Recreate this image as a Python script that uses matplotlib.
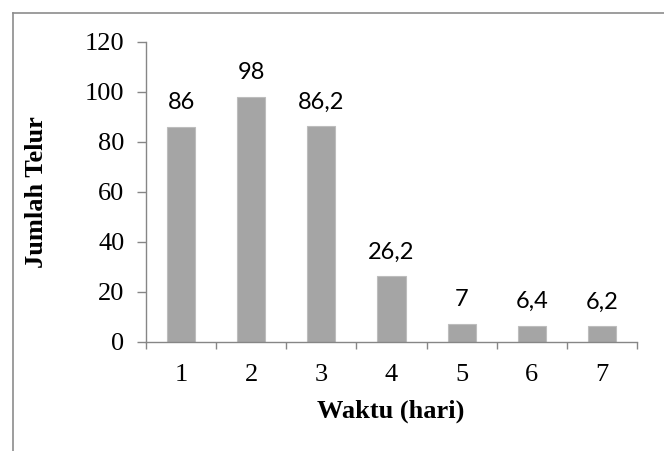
import matplotlib
matplotlib.use("Agg")
import matplotlib.pyplot as plt
from matplotlib.lines import Line2D
from matplotlib.ticker import FixedLocator

# Data
days = [1, 2, 3, 4, 5, 6, 7]
eggs = [86, 98, 86.2, 26.2, 7, 6.4, 6.2]
value_labels = ["86", "98", "86,2", "26,2", "7", "6,4", "6,2"]
y_ticks = [0, 20, 40, 60, 80, 100, 120]

AXIS_GRAY = "#868686"
BAR_GRAY = "#a5a5a5"

# 1: Figure and axes placed like the original
fig = plt.figure(figsize=(6.64, 4.51), dpi=100)
ax = fig.add_axes([0.2199, 0.2417, 0.7394, 0.6652])

# 2: Bars
ax.bar(days, eggs, width=0.4, color=BAR_GRAY, edgecolor="#bdbdbd", linewidth=0.8, zorder=2)

# 3: Value labels above bars
for x, v, lab in zip(days, eggs, value_labels):
    ax.annotate(lab, xy=(x, v), xytext=(0, 13), textcoords="offset points",
                ha="center", va="baseline", fontsize=17, family="Lato", color="black")

# 4: Axes styling
ax.set_xlim(0.5, 7.5)
ax.set_ylim(0, 120)
ax.set_yticks(y_ticks)
ax.set_xticks(days)
ax.xaxis.set_minor_locator(FixedLocator([d + 0.5 for d in [0] + days]))
for s in ["top", "right"]:
    ax.spines[s].set_visible(False)
for s in ["left", "bottom"]:
    ax.spines[s].set_color(AXIS_GRAY)
    ax.spines[s].set_linewidth(1.0)

ax.tick_params(axis="y", which="major", length=6.5, width=1.0, color=AXIS_GRAY,
               pad=9, labelsize=19)
ax.tick_params(axis="x", which="major", length=0, pad=16, labelsize=19)
ax.tick_params(axis="x", which="minor", length=5, width=1.0, color=AXIS_GRAY)
for lbl in ax.get_xticklabels() + ax.get_yticklabels():
    lbl.set_fontfamily("Liberation Serif")

# 5: Axis titles
ax.set_xlabel("Waktu (hari)", fontsize=19, fontweight="bold", family="Liberation Serif")
ax.set_ylabel("Jumlah Telur", fontsize=19, fontweight="bold", family="Liberation Serif")
ax.xaxis.set_label_coords(0.499, -0.193)
ax.yaxis.set_label_coords(-0.2, 0.5)

# 6: Outer chart border (only top and left edges visible in the crop)
fig.add_artist(Line2D([12.5 / 664, 1], [1 - 12.5 / 451] * 2, color="#8c8c8c", lw=1.2,
                      transform=fig.transFigure))
fig.add_artist(Line2D([12.5 / 664] * 2, [0, 1 - 12.5 / 451], color="#8c8c8c", lw=1.2,
                      transform=fig.transFigure))

fig.savefig("out.png", dpi=100)
plt.close(fig)
